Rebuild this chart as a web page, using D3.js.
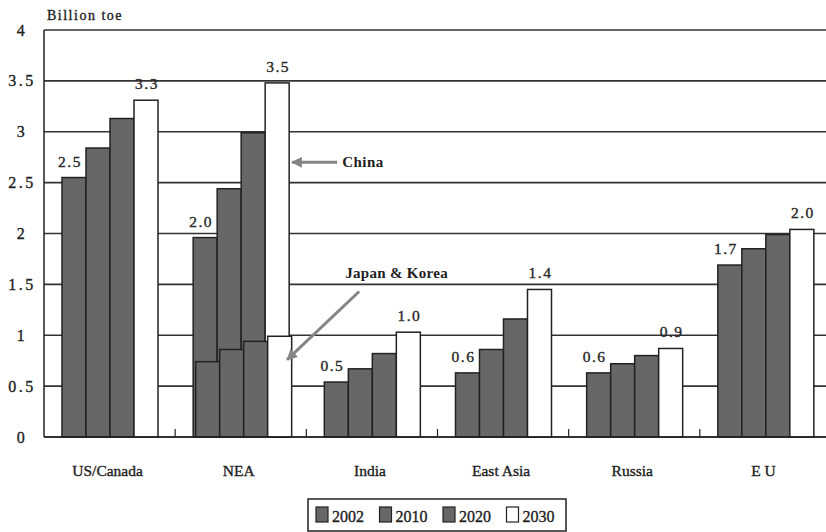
<!DOCTYPE html>
<html>
<head>
<meta charset="utf-8">
<script src="https://cdn.jsdelivr.net/npm/d3@7"></script>
<style>
  html, body { margin: 0; padding: 0; background: #fff; }
  svg { display: block; }
  text.heavy { stroke: #222; stroke-width: 0.35px; }
</style>
</head>
<body>
<svg id="chart" width="826" height="532"></svg>
<script>
// ---- data ----
const categories = ["US/Canada", "NEA", "India", "East Asia", "Russia", "E U"];
const years = ["2002", "2010", "2020", "2030"];
const s2002 = [2.55, 1.96, 0.54, 0.63, 0.63, 1.69];
const s2010 = [2.84, 2.44, 0.67, 0.86, 0.72, 1.85];
const s2020 = [3.13, 2.99, 0.82, 1.16, 0.80, 1.99];
const s2030 = [3.31, 3.48, 1.03, 1.45, 0.87, 2.04];
const japanKorea = [0.74, 0.86, 0.94, 0.99];
const labelFirst = ["2.5", "2.0", "0.5", "0.6", "0.6", "1.7"];
const labelLast = ["3.3", "3.5", "1.0", "1.4", "0.9", "2.0"];
const yTicks = [0, 0.5, 1, 1.5, 2, 2.5, 3, 3.5, 4];
const yTickLabels = ["0", "0.5", "1", "1.5", "2", "2.5", "3", "3.5", "4"];

const series = [s2002, s2010, s2020, s2030];

// ---- layout ----
const svg = d3.select("#chart");
const W = 826, H = 532;
const plotLeft = 44, plotTop = 30, plotBottom = 437;
const x = d3.scaleBand().domain(categories).range([plotLeft, 831]).padding(0);
const xi = d3.scaleBand().domain(years).range([18, 114]).padding(0);
const y = d3.scaleLinear().domain([0, 4]).range([plotBottom, plotTop]);
const barFill = { "2002": "#676767", "2010": "#676767", "2020": "#676767", "2030": "#ffffff" };
const ink = "#222";
const serif = "'Liberation Serif', 'DejaVu Serif', serif";

// gridlines
svg.append("g").selectAll("line")
  .data(yTicks)
  .join("line")
  .attr("x1", plotLeft).attr("x2", W)
  .attr("y1", d => y(d)).attr("y2", d => y(d))
  .attr("stroke", "#333")
  .attr("stroke-width", 1.6);

// left axis line
svg.append("line")
  .attr("x1", plotLeft).attr("x2", plotLeft)
  .attr("y1", y(4)).attr("y2", y(0))
  .attr("stroke", ink).attr("stroke-width", 1.5);

// y tick labels
svg.append("g").selectAll("text")
  .data(yTicks)
  .join("text")
  .attr("class", "heavy")
  .attr("x", 22)
  .attr("y", d => y(d) + 5.5)
  .attr("text-anchor", "middle")
  .attr("font-family", serif)
  .attr("font-size", 16)
  .attr("letter-spacing", 2.5)
  .attr("fill", ink)
  .text((d, i) => yTickLabels[i]);

// unit label
svg.append("text")
  .attr("class", "heavy")
  .attr("x", 47).attr("y", 20)
  .attr("font-family", serif)
  .attr("font-size", 14)
  .attr("letter-spacing", 1.5)
  .attr("fill", ink)
  .text("Billion toe");

// bars
const barData = [];
categories.forEach((c, ci) => {
  years.forEach((yr, yi) => {
    barData.push({ cat: c, year: yr, value: series[yi][ci], shift: 0 });
  });
});
categories.forEach((c, ci) => {
  if (c === "NEA") {
    years.forEach((yr, yi) => {
      barData.push({ cat: c, year: yr, value: japanKorea[yi], shift: 2.5 });
    });
  }
});

svg.append("g").selectAll("rect")
  .data(barData)
  .join("rect")
  .attr("x", d => x(d.cat) + xi(d.year) + d.shift)
  .attr("y", d => y(d.value))
  .attr("width", xi.bandwidth())
  .attr("height", d => y(0) - y(d.value))
  .attr("fill", d => barFill[d.year])
  .attr("stroke", ink)
  .attr("stroke-width", 1.5);

// baseline
svg.append("line")
  .attr("x1", plotLeft).attr("x2", W)
  .attr("y1", y(0)).attr("y2", y(0))
  .attr("stroke", ink).attr("stroke-width", 1.6);

// category separator ticks
svg.append("g").selectAll("line")
  .data(categories.slice(1))
  .join("line")
  .attr("x1", d => x(d)).attr("x2", d => x(d))
  .attr("y1", y(0)).attr("y2", y(0) - 8)
  .attr("stroke", ink).attr("stroke-width", 1.2);

// value labels
const lblG = svg.append("g")
  .attr("font-family", serif)
  .attr("font-size", 15.5)
  .attr("letter-spacing", 1.5)
  .attr("fill", "#2a2a2a")
  .attr("text-anchor", "middle");
categories.forEach((c, ci) => {
  lblG.append("text")
    .attr("class", "heavy")
    .attr("x", x(c) + xi("2002") + xi.bandwidth() / 2 - 4)
    .attr("y", y(series[0][ci]) - 11)
    .text(labelFirst[ci]);
  lblG.append("text")
    .attr("class", "heavy")
    .attr("x", x(c) + xi("2030") + xi.bandwidth() / 2 + 1)
    .attr("y", y(series[3][ci]) - 11)
    .text(labelLast[ci]);
});

// category labels
svg.append("g").selectAll("text")
  .data(categories)
  .join("text")
  .attr("class", "heavy")
  .attr("x", d => x(d) + x.bandwidth() / 2 - 2)
  .attr("y", 476)
  .attr("text-anchor", "middle")
  .attr("font-family", serif)
  .attr("font-size", 15.5)
  .attr("fill", ink)
  .text(d => d);

// annotations
const arrowColor = "#858585";
const defs = svg.append("defs");
defs.append("marker")
  .attr("id", "ah")
  .attr("viewBox", "0 0 10 10")
  .attr("refX", 9).attr("refY", 5)
  .attr("markerWidth", 4.2).attr("markerHeight", 3.6)
  .attr("markerUnits", "strokeWidth")
  .attr("orient", "auto")
  .append("path")
  .attr("d", "M0,0 L10,5 L0,10 Z")
  .attr("fill", arrowColor);

const neaRight = x("NEA") + xi("2030") + xi.bandwidth();
svg.append("line")
  .attr("x1", neaRight + 48).attr("y1", y(2.7))
  .attr("x2", neaRight + 3).attr("y2", y(2.7))
  .attr("stroke", arrowColor).attr("stroke-width", 3)
  .attr("marker-end", "url(#ah)");
svg.append("text")
  .attr("x", neaRight + 53).attr("y", y(2.7) + 5)
  .attr("font-family", serif)
  .attr("font-weight", "bold")
  .attr("font-size", 15)
  .attr("letter-spacing", 0.5)
  .attr("fill", ink)
  .text("China");

svg.append("line")
  .attr("x1", neaRight + 70).attr("y1", y(1.43))
  .attr("x2", neaRight - 2).attr("y2", y(0.76))
  .attr("stroke", arrowColor).attr("stroke-width", 3)
  .attr("marker-end", "url(#ah)");
svg.append("text")
  .attr("x", neaRight + 56).attr("y", y(1.61) + 5)
  .attr("font-family", serif)
  .attr("font-weight", "bold")
  .attr("font-size", 15)
  .attr("letter-spacing", 0.3)
  .attr("fill", ink)
  .text("Japan & Korea");

// legend
const lg = svg.append("g");
lg.append("rect")
  .attr("x", 308).attr("y", 499)
  .attr("width", 258).attr("height", 32)
  .attr("fill", "#fff")
  .attr("stroke", ink).attr("stroke-width", 1.5);
const li = lg.selectAll("g.item")
  .data(years)
  .join("g")
  .attr("class", "item")
  .attr("transform", (d, i) => `translate(${316 + i * 63.5},0)`);
li.append("rect")
  .attr("x", 0).attr("y", 507)
  .attr("width", 12).attr("height", 15)
  .attr("fill", d => barFill[d])
  .attr("stroke", ink).attr("stroke-width", 1.2);
li.append("text")
  .attr("class", "heavy")
  .attr("x", 16).attr("y", 522)
  .attr("font-family", serif)
  .attr("font-size", 16)
  .attr("fill", ink)
  .text(d => d);
</script>
</body>
</html>
